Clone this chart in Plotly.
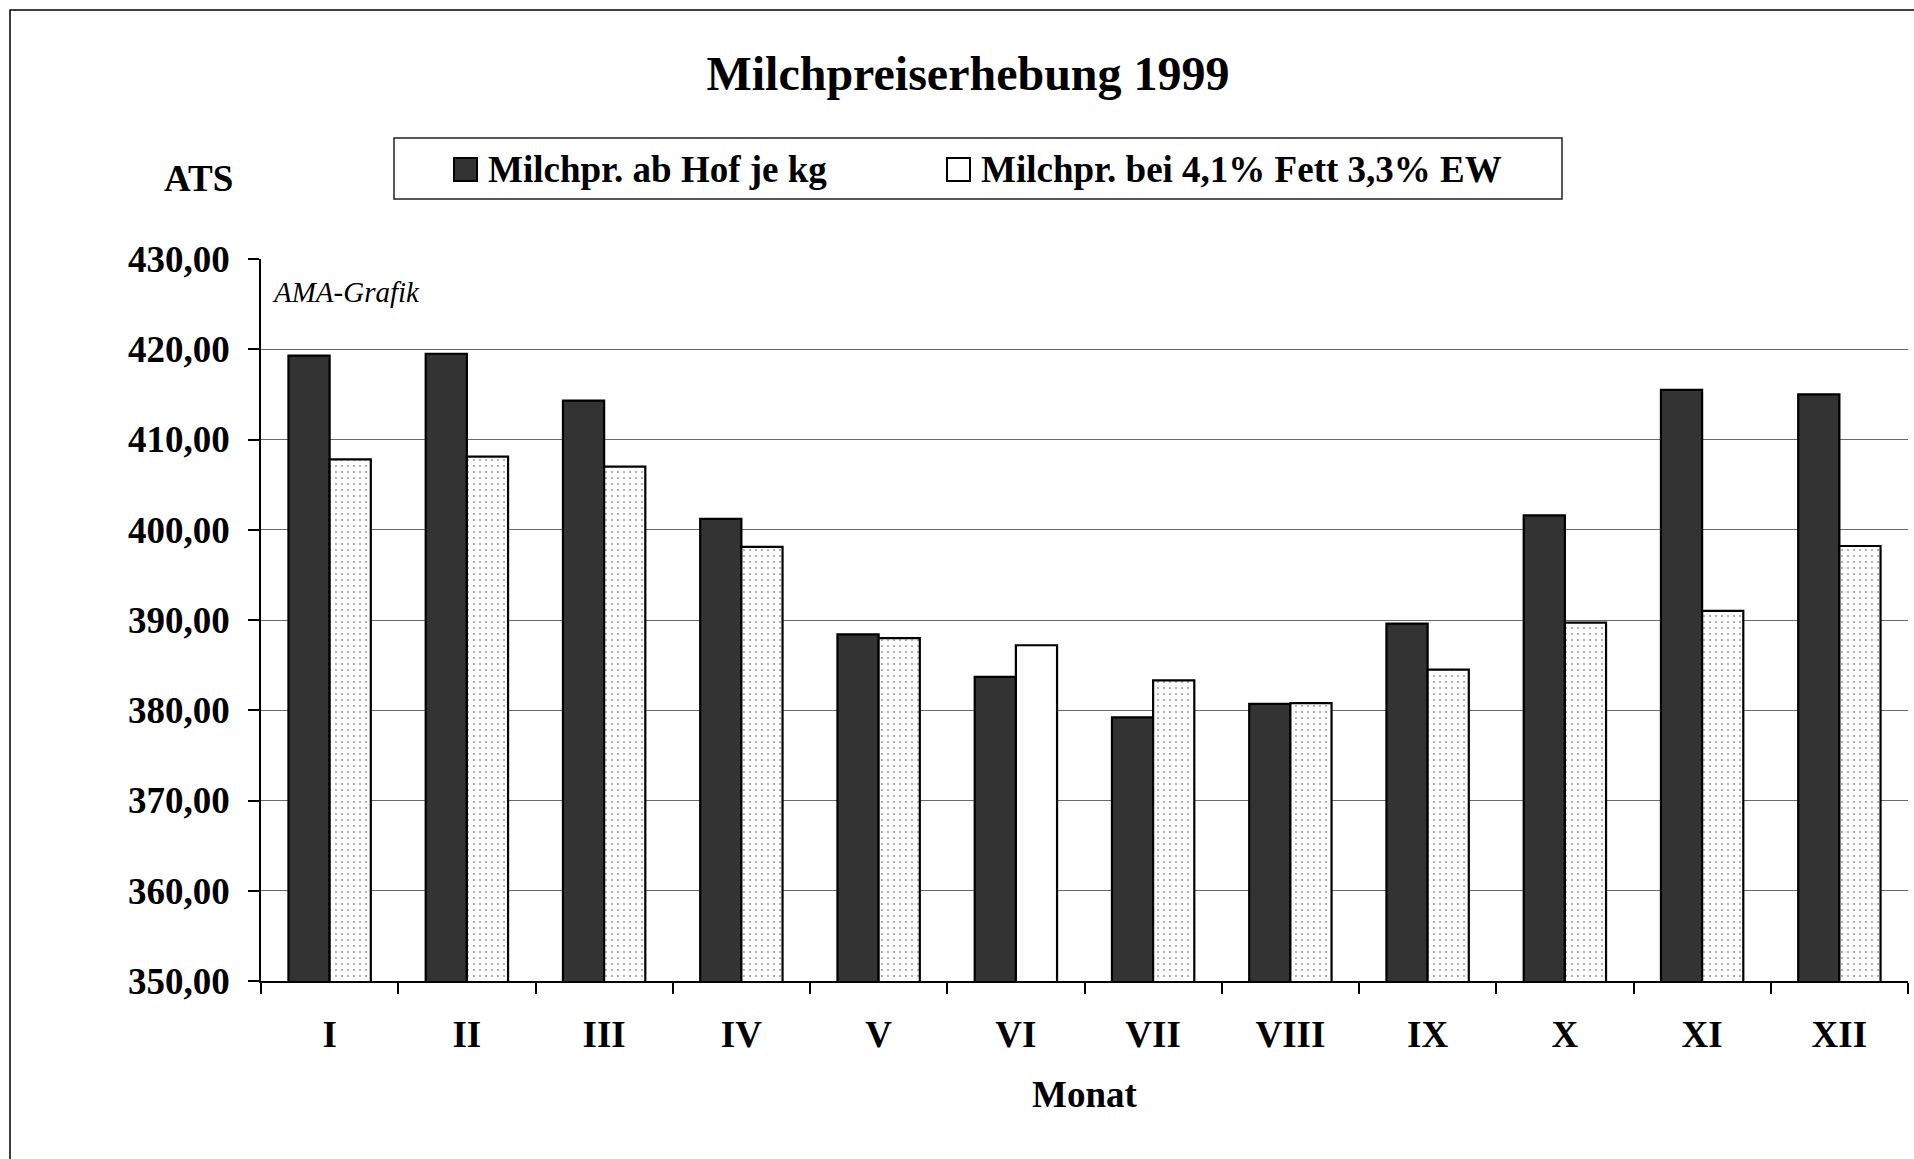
import plotly.graph_objects as go

# Data
months = ["I", "II", "III", "IV", "V", "VI", "VII", "VIII", "IX", "X", "XI", "XII"]
ab_hof = [419.3, 419.5, 414.3, 401.2, 388.4, 383.7, 379.2, 380.7, 389.6, 401.6, 415.5, 415.0]
bei_fett = [407.8, 408.1, 407.0, 398.1, 388.0, 387.2, 383.3, 380.8, 384.5, 389.7, 391.0, 398.2]
y_ticks = [350, 360, 370, 380, 390, 400, 410, 420, 430]
y_tick_text = [f"{v},00" for v in y_ticks]

series_names = ["Milchpr. ab Hof je kg", "Milchpr. bei 4,1% Fett 3,3% EW"]

FONT = "Liberation Serif, Times New Roman, serif"

# page geometry (pixels)
FIG_W, FIG_H = 1914, 1159
PLOT_L, PLOT_R, PLOT_T, PLOT_B = 261, 1908, 259, 981


def px(x):
    return (x - PLOT_L) / (PLOT_R - PLOT_L)


def py(y):
    return (PLOT_B - y) / (PLOT_B - PLOT_T)


# the VI bar of the second series is drawn without the dot pattern
dot_shapes = ["" if m == "VI" else "." for m in months]

fig = go.Figure()
fig.add_trace(go.Bar(
    x=months, y=ab_hof, name=series_names[0],
    marker=dict(color="#333333", line=dict(color="black", width=2.2)),
))
fig.add_trace(go.Bar(
    x=months, y=bei_fett, name=series_names[1],
    marker=dict(
        color="white",
        line=dict(color="black", width=2.2),
        pattern=dict(shape=dot_shapes, fgcolor="#a0a0a0", bgcolor="white",
                     size=6, solidity=0.1, fillmode="replace"),
    ),
))

shapes = [
    # outer frame (runs off the right and bottom of the page)
    dict(type="rect", xref="paper", yref="paper",
         x0=px(10), x1=px(1930), y0=py(1180), y1=py(10),
         line=dict(color="black", width=1.5), fillcolor="rgba(0,0,0,0)"),
    # legend box
    dict(type="rect", xref="paper", yref="paper",
         x0=px(394), x1=px(1562), y0=py(199), y1=py(138),
         line=dict(color="#222", width=1.5), fillcolor="white"),
    dict(type="rect", xref="paper", yref="paper",
         x0=px(454), x1=px(477), y0=py(181), y1=py(158),
         line=dict(color="black", width=2), fillcolor="#333333"),
    dict(type="rect", xref="paper", yref="paper",
         x0=px(947), x1=px(970), y0=py(181), y1=py(158),
         line=dict(color="black", width=2), fillcolor="white"),
]

annotations = [
    dict(text="<b>" + series_names[0] + "</b>", x=px(486), y=py(170),
         xref="paper", yref="paper", xanchor="left", yanchor="middle",
         showarrow=False, font=dict(size=37, color="black")),
    dict(text="<b>" + series_names[1] + "</b>", x=px(979), y=py(170),
         xref="paper", yref="paper", xanchor="left", yanchor="middle",
         showarrow=False, font=dict(size=37, color="black")),
    dict(text="<b>ATS</b>", x=px(198), y=py(178), xref="paper", yref="paper",
         xanchor="center", yanchor="middle", showarrow=False,
         font=dict(size=37, color="black")),
    dict(text="<i>AMA-Grafik</i>", x=px(270), y=py(292), xref="paper", yref="paper",
         xanchor="left", yanchor="middle", showarrow=False,
         font=dict(size=29, color="black")),
]

fig.update_layout(
    width=FIG_W, height=FIG_H,
    margin=dict(l=PLOT_L, r=FIG_W - PLOT_R, t=PLOT_T, b=FIG_H - PLOT_B, autoexpand=False),
    paper_bgcolor="white", plot_bgcolor="white",
    font=dict(family=FONT, color="black"),
    title=dict(text="<b>Milchpreiserhebung 1999</b>", x=968 / FIG_W, y=1 - 73 / FIG_H,
               xanchor="center", yanchor="middle", font=dict(size=48, color="black")),
    barmode="group", bargap=0.4, bargroupgap=0,
    showlegend=False,
    shapes=shapes, annotations=annotations,
    xaxis=dict(
        showline=True, linecolor="black", linewidth=1.5,
        ticks="outside", ticklen=11, tickcolor="black", tickwidth=1.5,
        tickson="boundaries", showgrid=False,
        tickfont=dict(size=37, color="black"), ticklabelstandoff=20,
        title=dict(text="<b>Monat</b>", font=dict(size=37, color="black"), standoff=27),
        automargin=False,
    ),
    yaxis=dict(
        range=[350, 430], tickvals=y_ticks, ticktext=["<b>" + t + "</b>" for t in y_tick_text],
        showline=True, linecolor="black", linewidth=1.5,
        ticks="outside", ticklen=11, tickcolor="black", tickwidth=1.5,
        showgrid=True, gridcolor="#6a6a6a", gridwidth=1.4, zeroline=False,
        tickfont=dict(size=37, color="black"), ticklabelstandoff=11,
        automargin=False,
    ),
)
fig.update_xaxes(tickvals=months, ticktext=["<b>" + m + "</b>" for m in months])

# the page's default body margin would shift the chart; drop it
fig.write_html("out.html", config={"displayModeBar": False},
               post_script="document.body.style.margin = '0';")
